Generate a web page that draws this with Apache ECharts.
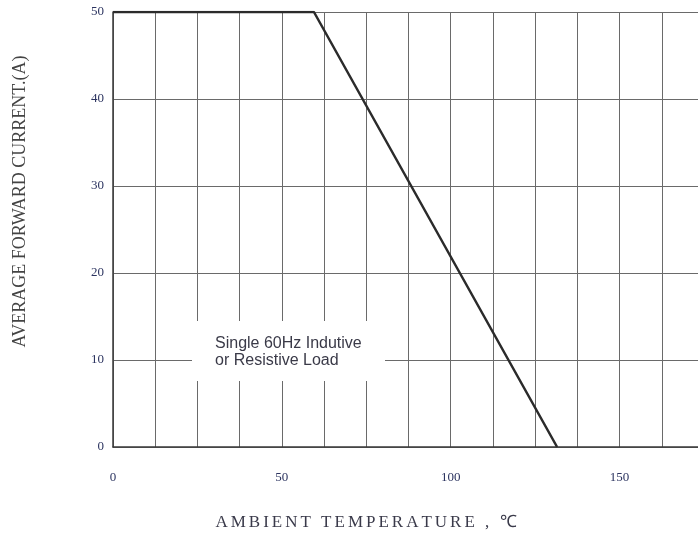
<!DOCTYPE html>
<html>
<head>
<meta charset="utf-8">
<script src="https://cdn.jsdelivr.net/npm/echarts@6/dist/echarts.min.js"></script>
<style>html,body{margin:0;padding:0;background:#fff}#c{width:698px;height:536px}</style>
</head>
<body>
<div id="c"></div>
<script>
// Derating curve: ambient temperature (°C) vs average forward current (A)
const temperature = [0, 59.5, 131.5];
const current = [50, 50, 0];
const xLabelValues = [0, 50, 100, 150];
const xAxisTitle = 'AMBIENT TEMPERATURE , \u2103';
const yAxisTitle = 'AVERAGE FORWARD CURRENT.(A)';
const noteLines = ['Single 60Hz Indutive', 'or Resistive Load'];

const chart = echarts.init(document.getElementById('c'), null, {renderer: 'canvas'});
const serif = '"Liberation Serif", "Times New Roman", serif';
// letter-spaced title: each character rendered as its own rich-text run
const spaced = xAxisTitle.split('').map(c => '{s|' + c + '}').join('');
chart.setOption({
  animation: false,
  backgroundColor: '#fff',
  grid: {left: 113, top: 12, width: 591, bottom: 89, containLabel: false, outerBoundsMode: 'none'},
  xAxis: {
    type: 'value', min: 0, max: 175, interval: 12.5,
    axisLine: {show: true, lineStyle: {color: '#3a3a3a', width: 1.5}},
    axisTick: {show: false},
    splitLine: {show: true, lineStyle: {color: '#6a6a6a', width: 1}},
    axisLabel: {
      margin: 24, fontFamily: serif, fontSize: 13, color: '#2c3460',
      formatter: v => xLabelValues.indexOf(v) >= 0 ? String(v) : ''
    },
    name: spaced, nameLocation: 'middle', nameGap: 67,
    nameTextStyle: {
      fontFamily: serif, fontSize: 17, color: '#3a3a4a', padding: [0, 85, 0, 0],
      rich: {s: {fontFamily: serif, fontSize: 17, color: '#3a3a4a', padding: [0, 1.5, 0, 1.5]}}
    }
  },
  yAxis: {
    type: 'value', min: 0, max: 50, interval: 10,
    axisLine: {show: true, lineStyle: {color: '#3a3a3a', width: 1.5}},
    axisTick: {show: false},
    splitLine: {show: true, lineStyle: {color: '#6a6a6a', width: 1}},
    axisLabel: {margin: 9, fontFamily: serif, fontSize: 13, color: '#2c3460'},
    name: yAxisTitle, nameLocation: 'middle', nameGap: 84,
    nameTextStyle: {fontFamily: serif, fontSize: 18, color: '#444', padding: [0, 0, 0, 56]}
  },
  series: [{
    type: 'line',
    data: temperature.map((t, i) => [t, current[i]]),
    symbol: 'none',
    lineStyle: {color: '#2b2b2b', width: 2.5},
    z: 5
  }],
  graphic: [
    {type: 'rect', left: 192, top: 321, z: 100, shape: {width: 193, height: 60}, style: {fill: '#fff'}},
    {type: 'text', left: 215, top: 335, z: 101, style: {
      text: noteLines.join('\n'), font: '16px "Liberation Sans", Arial, sans-serif',
      fill: '#3a3a48', lineHeight: 17
    }}
  ]
});
</script>
</body>
</html>
